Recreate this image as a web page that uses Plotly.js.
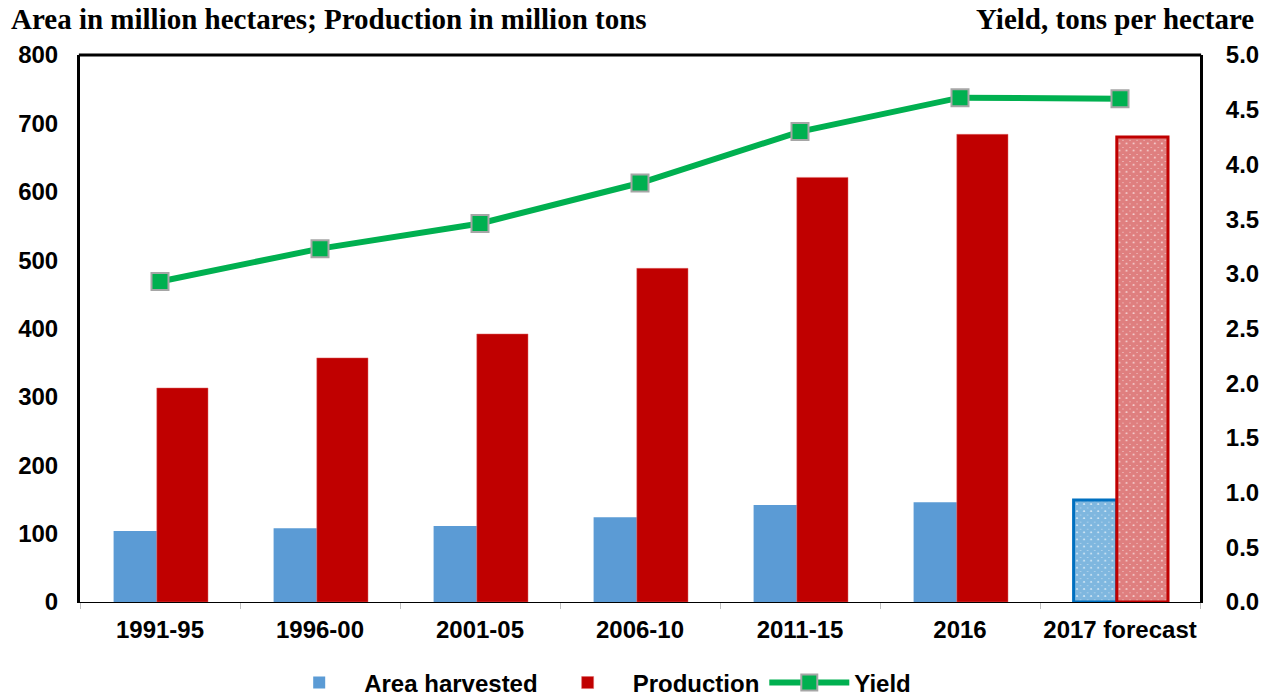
<!DOCTYPE html>
<html>
<head>
<meta charset="utf-8">
<script src="https://cdn.plot.ly/plotly-3.0.1.min.js"></script>
<style>html,body{margin:0;padding:0;background:#fff;}#chart{width:1267px;height:696px;}</style>
</head>
<body>
<div id="chart"></div>
<script>
const categories = ["1991-95", "1996-00", "2001-05", "2006-10", "2011-15", "2016", "2017 forecast"];
const areaHarvested = [104, 108, 111, 124, 142, 146, 149];
const production = [313, 357, 392, 488, 621, 684, 680];
const yieldVals = [2.93, 3.23, 3.46, 3.83, 4.30, 4.61, 4.60];
const forecastFlags = [false, false, false, false, false, false, true];

const tickFont = {family: "Liberation Sans, Arial, sans-serif", size: 24, color: "#000", weight: "bold"};
const actualOnly = arr => arr.map((v, i) => forecastFlags[i] ? null : v);
const forecastOnly = arr => arr.map((v, i) => forecastFlags[i] ? v : null);

const traces = [
  {
    type: "bar", name: "Area harvested", x: categories, y: actualOnly(areaHarvested),
    width: 0.27, offset: -0.29, legendrank: 1,
    marker: {color: "#5B9BD5", line: {width: 0}},
    hoverinfo: "skip"
  },
  {
    type: "bar", name: "Production", x: categories, y: actualOnly(production),
    width: 0.32, offset: -0.02, legendrank: 2,
    marker: {color: "#C00000", line: {color: "#E06666", width: 0.5}},
    hoverinfo: "skip"
  },
  {
    type: "bar", name: "Area harvested (forecast)", x: categories, y: forecastOnly(areaHarvested),
    width: 0.27, offset: -0.29, showlegend: false,
    marker: {
      color: "#ffffff",
      line: {color: "#0070C0", width: 3},
      pattern: {shape: "x", fillmode: "overlay", fgcolor: "#0070C0", bgcolor: "#ffffff", size: 5, solidity: 0.95}
    },
    hoverinfo: "skip"
  },
  {
    type: "bar", name: "Production (forecast)", x: categories, y: forecastOnly(production),
    width: 0.32, offset: -0.02, showlegend: false,
    marker: {
      color: "#ffffff",
      line: {color: "#C00000", width: 3},
      pattern: {shape: "x", fillmode: "overlay", fgcolor: "#C00000", bgcolor: "#ffffff", size: 5, solidity: 0.95}
    },
    hoverinfo: "skip"
  },
  {
    type: "scatter", mode: "lines+markers", name: "Yield", x: categories, y: yieldVals, yaxis: "y2",
    legendrank: 3,
    line: {color: "#00B050", width: 6},
    marker: {symbol: "square", size: 17, color: "#00B050", line: {color: "#A6A6A6", width: 2}},
    hoverinfo: "skip"
  }
];

const layout = {
  width: 1267, height: 696,
  margin: {l: 80, r: 67, t: 55, b: 94, autoexpand: false},
  paper_bgcolor: "#fff", plot_bgcolor: "#fff",
  showlegend: true,
  barmode: "overlay",
  legend: {
    orientation: "h", x: 0.46, xanchor: "center", y: -0.148, yanchor: "middle",
    font: {family: "Liberation Sans, Arial, sans-serif", size: 24, color: "#000", weight: "bold"},
    itemwidth: 80, tracegroupgap: 0, traceorder: "normal"
  },
  xaxis: {
    type: "category",
    tickfont: tickFont, tickangle: 0,
    showline: true, linecolor: "#000", linewidth: 1,
    ticks: "outside", tickson: "boundaries", ticklen: 6, tickcolor: "#BFBFBF", tickwidth: 1,
    ticklabelstandoff: 6,
    showgrid: false, zeroline: false, fixedrange: true
  },
  yaxis: {
    range: [0, 800], dtick: 100, tickformat: "d",
    tickfont: tickFont,
    showline: true, linecolor: "#000", linewidth: 3,
    ticks: "", ticklen: 0, ticklabelstandoff: 14,
    showgrid: false, zeroline: false, fixedrange: true
  },
  yaxis2: {
    overlaying: "y", side: "right",
    range: [0, 5], dtick: 0.5, tickformat: ".1f",
    tickfont: tickFont,
    showline: true, linecolor: "#000", linewidth: 3,
    ticks: "", ticklabelstandoff: 18,
    showgrid: false, zeroline: false, fixedrange: true
  },
  shapes: [
    {type: "line", xref: "paper", yref: "paper", x0: -0.001, x1: 1.001, y0: 1, y1: 1, line: {color: "#000", width: 3}}
  ],
  annotations: [
    {text: "Area in million hectares; Production in million tons", xref: "paper", yref: "paper",
     x: -0.063, y: 1.066, xanchor: "left", yanchor: "middle", showarrow: false,
     font: {family: "Liberation Serif, Times New Roman, serif", size: 29, color: "#000", weight: "bold"}},
    {text: "Yield, tons per hectare", xref: "paper", yref: "paper",
     x: 1.05, y: 1.066, xanchor: "right", yanchor: "middle", showarrow: false,
     font: {family: "Liberation Serif, Times New Roman, serif", size: 29, color: "#000", weight: "bold"}}
  ]
};

Plotly.newPlot("chart", traces, layout, {displayModeBar: false, staticPlot: true});
</script>
</body>
</html>
